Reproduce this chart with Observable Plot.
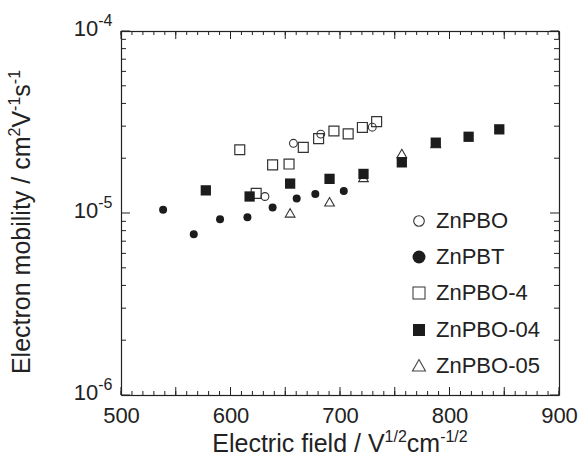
<!DOCTYPE html>
<html><head><meta charset="utf-8">
<script src="https://cdn.jsdelivr.net/npm/d3@7"></script>
<script src="https://cdn.jsdelivr.net/npm/@observablehq/plot@0.6"></script>
<style>
body{margin:0;}
#wrap{position:relative;width:581px;height:460px;}
#wrap > svg{font-family:"Liberation Sans",Arial,Helvetica,sans-serif;font-size:22px;color:#222;}
#legend{position:absolute;left:408px;top:203px;width:160px;font-family:"Liberation Sans",Arial,Helvetica,sans-serif;font-size:22px;color:#222;}
.row{display:flex;align-items:center;height:36.2px;white-space:nowrap;}
.row svg{width:22px;height:22px;margin-right:6px;flex:none;}
</style></head><body><div id="wrap"><div id="legend"></div></div>
<script>
// ---- data ----
const seriesNames = ["ZnPBO", "ZnPBT", "ZnPBO-4", "ZnPBO-04", "ZnPBO-05"];
const znpboX = [631, 657, 682, 729];
const znpboY = [1.24e-5, 2.43e-5, 2.73e-5, 2.98e-5];
const znpbtX = [538, 566, 590, 615, 638, 660, 677, 703];
const znpbtY = [1.05e-5, 7.7e-6, 9.3e-6, 9.55e-6, 1.08e-5, 1.21e-5, 1.28e-5, 1.33e-5];
const znpbo4X = [608, 623, 638, 653, 666, 680, 694, 707, 720, 733];
const znpbo4Y = [2.24e-5, 1.29e-5, 1.85e-5, 1.87e-5, 2.31e-5, 2.58e-5, 2.84e-5, 2.74e-5, 2.97e-5, 3.2e-5];
const znpbo04X = [577, 617, 654, 690, 721, 756, 787, 817, 845];
const znpbo04Y = [1.34e-5, 1.24e-5, 1.46e-5, 1.55e-5, 1.65e-5, 1.91e-5, 2.45e-5, 2.64e-5, 2.9e-5];
const znpbo05X = [654, 690, 721, 756, 787];
const znpbo05Y = [9.9e-6, 1.14e-5, 1.55e-5, 2.1e-5, 2.38e-5];

const xLabelTicks = [500, 600, 700, 800, 900];
const xMajorTicks = [500, 550, 600, 650, 700, 750, 800, 850, 900];
const xMinorTicks = d3.range(500, 901, 10);
const yMajorTicks = [1e-6, 1e-5, 1e-4];
const yMinorTicks = [2e-6,3e-6,4e-6,5e-6,6e-6,7e-6,8e-6,9e-6,2e-5,3e-5,4e-5,5e-5,6e-5,7e-5,8e-5,9e-5];
const xTitle = ["Electric field / V", "1/2", "cm", "-1/2"];
const yTitle = ["Electron mobility / cm", "2", "V", "-1", "s", "-1"];

const rows = (xs, ys) => xs.map((x, i) => ({x, y: ys[i]}));
const ink = "#1c1c1c";
const AX = "#222";
const W = 581, H = 460, ML = 121, MR = 22, MT = 31, MB = 65;
const FW = W - ML - MR, FH = H - MT - MB;

// frame edges as thin filled strips
const edges = [
  Plot.frame({fill: AX, stroke: "none", insetTop: FH - 0.6, insetBottom: -0.6}),
  Plot.frame({fill: AX, stroke: "none", insetBottom: FH - 0.6, insetTop: -0.6}),
  Plot.frame({fill: AX, stroke: "none", insetRight: FW - 0.6, insetLeft: -0.6}),
  Plot.frame({fill: AX, stroke: "none", insetLeft: FW - 0.6, insetRight: -0.6})
];
// inward ticks as 1px filled rects
const rx = (ticks, len, side) => Plot.rect(ticks, {x1: d => d, x2: d => d, insetLeft: -0.5, insetRight: -0.5, fill: AX,
  insetTop: side === "bottom" ? FH - len : 0, insetBottom: side === "top" ? FH - len : 0});
const ry = (ticks, len, side) => Plot.rect(ticks, {y1: d => d, y2: d => d, insetTop: -0.5, insetBottom: -0.5, fill: AX,
  insetRight: side === "left" ? FW - len : 0, insetLeft: side === "right" ? FW - len : 0});
const filledTicks = [
  rx(xMinorTicks, 4, "bottom"), rx(xMajorTicks, 8, "bottom"),
  rx(xMinorTicks, 4, "top"), rx(xMajorTicks, 8, "top"),
  ry(yMinorTicks, 5, "left"), ry(yMajorTicks, 9, "left"),
  ry(yMinorTicks, 5, "right"), ry(yMajorTicks, 9, "right")
];
// fallback: stroked ticks
const noText = () => "";
const inX = (anchor, ticks, len) => Plot.axisX({anchor, ticks, tickSize: len, tickFormat: noText, label: null,
  dy: anchor === "bottom" ? -len : len});
const inY = (anchor, ticks, len) => Plot.axisY({anchor, ticks, tickSize: len, tickFormat: noText, label: null,
  dx: anchor === "left" ? len : -len});
const strokedTicks = [
  Plot.frame(),
  inX("bottom", xMinorTicks, 4), inX("bottom", xMajorTicks, 8),
  inX("top", xMinorTicks, 4), inX("top", xMajorTicks, 8),
  inY("left", yMinorTicks, 5), inY("left", yMajorTicks, 9),
  inY("right", yMinorTicks, 5), inY("right", yMajorTicks, 9)
];

const common = [
  Plot.axisX({anchor: "bottom", ticks: xLabelTicks, tickSize: 0, tickPadding: 12, tickFormat: d3.format("d"), label: null}),
  Plot.axisY({anchor: "left", ticks: yMajorTicks, tickSize: 0, tickPadding: 9, dy: -3,
    tickFormat: d => "10|" + Math.round(Math.log10(d)), label: null}),
  Plot.dot(rows(znpbo05X, znpbo05Y), {x: "x", y: "y", symbol: "triangle", r: 3.6, stroke: "#333", strokeWidth: 1.1, fill: "none"}),
  Plot.dot(rows(znpbo4X, znpbo4Y), {x: "x", y: "y", symbol: "square", r: 5.6, stroke: "#333", strokeWidth: 1.2, fill: "none"}),
  Plot.dot(rows(znpboX, znpboY), {x: "x", y: "y", symbol: "circle", r: 3.9, stroke: "#333", strokeWidth: 1.1, fill: "none"}),
  Plot.dot(rows(znpbtX, znpbtY), {x: "x", y: "y", symbol: "circle", r: 4, fill: ink, stroke: "none"}),
  Plot.dot(rows(znpbo04X, znpbo04Y), {x: "x", y: "y", symbol: "square", r: 5.8, fill: ink, stroke: "none"})
];
const opts = marks => ({
  width: W, height: H, marginLeft: ML, marginRight: MR, marginTop: MT, marginBottom: MB,
  x: {domain: [500, 900]}, y: {type: "log", domain: [1e-6, 1e-4]}, marks
});
let plot;
try { plot = Plot.plot(opts([...edges, ...filledTicks, ...common])); }
catch (e) { plot = Plot.plot(opts([...strokedTicks, ...common])); }

const NS = "http://www.w3.org/2000/svg";
function tspan(parent, txt, o = {}) {
  const t = document.createElementNS(NS, "tspan");
  t.textContent = txt;
  for (const k in o) t.setAttribute(k, o[k]);
  parent.appendChild(t);
  return t;
}
plot.querySelectorAll('g[aria-label$="tick label"] text').forEach(t => { if (t.textContent === "") t.remove(); });
plot.querySelectorAll('g[aria-label="y-axis tick label"] text').forEach(t => {
  const s = t.textContent;
  if (!s.includes("|")) return;
  const [base, exp] = s.split("|");
  t.textContent = "";
  tspan(t, base);
  tspan(t, exp, {"font-size": "16px", dy: "-10"});
});

function title(parts, attrs, size) {
  const t = document.createElementNS(NS, "text");
  for (const k in attrs) t.setAttribute(k, attrs[k]);
  t.setAttribute("font-size", size);
  t.setAttribute("fill", "currentColor");
  t.setAttribute("text-anchor", "middle");
  parts.forEach((p, i) => {
    if (i % 2 === 0) tspan(t, p, i === 0 ? {} : {dy: "10", "font-size": size});
    else tspan(t, p, {dy: "-10", "font-size": Math.round(size * 0.64)});
  });
  plot.appendChild(t);
}
title(xTitle, {x: 340, y: 452}, 25);
title(yTitle, {transform: "translate(30,222) rotate(-90)"}, 25);

document.getElementById("wrap").prepend(plot);

const legendSymbols = [
  '<circle cx="11" cy="11" r="5.3" fill="none" stroke="#333" stroke-width="1.1"/>',
  '<circle cx="11" cy="11" r="6.5" fill="' + ink + '"/>',
  '<rect x="5" y="5" width="12" height="12" fill="none" stroke="#444" stroke-width="1.1"/>',
  '<rect x="5" y="5" width="12" height="12" fill="' + ink + '"/>',
  '<polygon points="11,4.5 17.5,16 4.5,16" fill="none" stroke="#444" stroke-width="1.1"/>'
];
const legend = document.getElementById("legend");
seriesNames.forEach((name, i) => {
  const row = document.createElement("div");
  row.className = "row";
  row.innerHTML = '<svg viewBox="0 0 22 22">' + legendSymbols[i] + '</svg><span>' + name + '</span>';
  legend.appendChild(row);
});
</script></body></html>
